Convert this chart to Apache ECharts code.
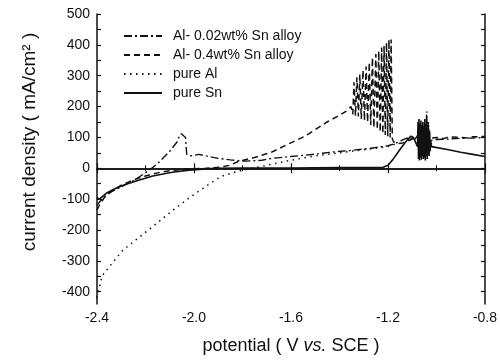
<!DOCTYPE html>
<html><head><meta charset="utf-8">
<script src="https://cdn.jsdelivr.net/npm/echarts@6/dist/echarts.min.js"></script>
<style>html,body{margin:0;padding:0;background:#fff}#c{width:500px;height:360px}</style>
</head><body><div id="c"></div>
<script>
var seriesNames = ['Al- 0.02wt% Sn alloy', 'Al- 0.4wt% Sn alloy', 'pure Al', 'pure Sn'];
var xTicks = [-2.4, -2.0, -1.6, -1.2, -0.8];
var yTickLabels = [-400, -300, -200, -100, 0, 100, 200, 300, 400, 500];
var yMinorTicks = [-400,-350,-300,-250,-200,-150,-100,-50,0,50,100,150,200,250,300,350,400,450,500];

// Al-0.02wt% Sn (dash-dot)
var potA = [-2.4,-2.39,-2.37,-2.35,-2.3,-2.25,-2.2,-2.15,-2.1,-2.07,-2.06,-2.052,-2.045,-2.035,-2.03,-2.01,-1.98,-1.95,-1.9,-1.85,-1.79,-1.72,-1.68,-1.6,-1.545,-1.5,-1.41,-1.35,-1.276,-1.2,-1.17,-1.15,-1.13,-1.11,-1.09,-1.075,-1.06,-1.05,-1.045,-1.04,-1.037,-1.033,-1.03,-1.027,-1.02,-1.0,-0.95,-0.9,-0.85,-0.8];
var curA = [-120,-110,-92,-80,-60,-40,-15,15,55,85,105,112,108,100,45,40,45,40,32,27,23,26,32,38,42,46,54,58,64,73,80,88,95,100,92,110,60,140,90,185,70,150,100,90,92,93,95,97,98,100];

// Al-0.4wt% Sn (dashed)
var potB = [-2.4,-2.39,-2.37,-2.34,-2.3,-2.25,-2.2,-2.15,-2.1,-2.05,-2.0,-1.95,-1.9,-1.85,-1.818,-1.75,-1.683,-1.62,-1.545,-1.5,-1.451,-1.4,-1.37,-1.352,
  -1.345,-1.34,-1.334,-1.328,-1.322,-1.316,-1.31,-1.303,-1.297,-1.29,-1.284,-1.277,-1.271,-1.264,-1.258,-1.25,-1.244,-1.238,-1.232,-1.226,-1.221,-1.216,-1.211,-1.206,-1.201,-1.196,-1.191,-1.187,-1.182,-1.176,
  -1.16,-1.14,-1.12,-1.1,-1.08,-1.07,-1.06,-1.05,-1.04,-1.03,-1.02,-1.0,-0.97,-0.95,-0.9,-0.87,-0.85,-0.8];
var curB = [-135,-120,-95,-75,-55,-38,-25,-15,-8,-4,-2,0,3,10,22,35,51,75,103,125,150,172,186,200,
  175,279,170,295,168,304,160,318,155,330,150,343,140,359,132,370,125,380,118,391,112,396,108,407,104,417,100,417,95,85,
  80,82,88,95,100,105,95,120,100,110,98,100,96,102,100,98,102,103];

// pure Al (dotted)
var potC = [-2.4,-2.39,-2.38,-2.35,-2.294,-2.22,-2.156,-2.09,-2.02,-1.95,-1.887,-1.82,-1.76,-1.71,-1.65,-1.6,-1.5,-1.4,-1.3,-1.2,-1.17];
var curC = [-420,-385,-350,-320,-266,-220,-180,-138,-96,-58,-26,-10,0,8,18,26,40,50,60,70,78];

// pure Sn (solid)
var potD = [-2.4,-2.39,-2.36,-2.32,-2.28,-2.225,-2.17,-2.09,-2.02,-1.95,-1.91,-1.8,-1.6,-1.4,-1.25,-1.22,-1.2,-1.18,-1.16,-1.14,-1.12,-1.105,-1.095,-1.085,-1.078,
  -1.076,-1.074,-1.072,-1.07,-1.068,-1.066,-1.064,-1.062,-1.06,-1.058,-1.056,-1.054,-1.052,-1.05,-1.048,-1.046,-1.044,-1.042,-1.04,-1.038,-1.036,-1.034,-1.032,-1.03,-1.028,-1.026,-1.024,
  -1.02,-0.95,-0.9,-0.85,-0.8];
var curD = [-95,-100,-80,-64,-52,-38,-25,-13,-6,-2,0,1,1,2,2,3,10,28,50,72,92,104,100,82,70,
  150,30,160,25,145,35,155,28,140,40,150,30,135,35,160,25,145,40,150,30,140,45,130,40,120,55,90,
  70,60,52,45,38];

function zip(a, b) { return a.map(function (v, i) { return [v, b[i]]; }); }

var FONT = "'Liberation Sans', Arial, sans-serif";
var INK = '#111';
var chart = echarts.init(document.getElementById('c'), null, { renderer: 'canvas' });

var axisLineStyle = { show: true, lineStyle: { color: INK, width: 1.5 } };

function mkSeries(name, xs, ys, type, width) {
  return {
    name: name, type: 'line', data: zip(xs, ys), symbol: 'none', showSymbol: false,
    lineStyle: { color: INK, width: width, type: type },
    itemStyle: { color: INK },
    animation: false, z: 3
  };
}

chart.setOption({
  animation: false,
  textStyle: { fontFamily: FONT, color: INK },
  grid: { left: 97, right: 10, top: 14, bottom: 53, containLabel: false },
  legend: {
    data: seriesNames, orient: 'vertical', left: 118, top: 24,
    itemWidth: 38, itemHeight: 14, itemGap: 5,
    itemStyle: { opacity: 0 },
    textStyle: { fontFamily: FONT, fontSize: 14, color: INK, padding: [0, 0, 0, 6] }
  },
  xAxis: [{
    type: 'value', min: -2.4, max: -0.8, interval: 0.4, position: 'bottom',
    axisLine: axisLineStyle,
    axisTick: { show: true, inside: true, length: 5, lineStyle: { color: INK, width: 1.2 } },
    minorTick: { show: true, splitNumber: 2, length: 3, lineStyle: { color: INK, width: 1 } },
    splitLine: { show: false },
    axisLabel: { fontFamily: FONT, fontSize: 14, color: INK, margin: 7,
      formatter: function (v) { return v.toFixed(1); } },
    name: '{n|potential ( V }{i|vs.}{n| SCE )}', nameLocation: 'middle', nameGap: 33,
    nameTextStyle: { rich: {
      n: { fontFamily: FONT, fontSize: 18, color: INK },
      i: { fontFamily: FONT, fontSize: 18, color: INK, fontStyle: 'italic' } } }
  }, {
    type: 'value', min: -2.4, max: -0.8, interval: 0.4, position: 'top',
    axisLine: axisLineStyle,
    axisTick: { show: true, inside: true, length: 5, lineStyle: { color: INK, width: 1.2 } },
    minorTick: { show: true, splitNumber: 2, length: 3, lineStyle: { color: INK, width: 1 } },
    splitLine: { show: false }, axisLabel: { show: false }
  }],
  yAxis: [{
    type: 'value', min: -440, max: 500, position: 'left',
    axisLine: axisLineStyle,
    axisTick: { show: true, inside: true, length: 4, customValues: yMinorTicks, lineStyle: { color: INK, width: 1.2 } },
    splitLine: { show: false },
    axisLabel: { fontFamily: FONT, fontSize: 14, color: INK, margin: 7, customValues: yTickLabels },
    name: 'current density ( mA/cm² )', nameLocation: 'middle', nameGap: 58, nameRotate: 90,
    nameTextStyle: { fontFamily: FONT, fontSize: 19, color: INK, padding: [0, 0, 0, 34] }
  }, {
    type: 'value', min: -440, max: 500, position: 'right',
    axisLine: axisLineStyle,
    axisTick: { show: true, inside: true, length: 4, customValues: yMinorTicks, lineStyle: { color: INK, width: 1.2 } },
    splitLine: { show: false }, axisLabel: { show: false }
  }],
  series: [
    mkSeries(seriesNames[0], potA, curA, [8, 3, 2, 3], 1.4),
    mkSeries(seriesNames[1], potB, curB, [6, 4], 1.5),
    mkSeries(seriesNames[2], potC, curC, [1.5, 4.5], 1.5),
    mkSeries(seriesNames[3], potD, curD, 'solid', 1.6)
  ]
});
</script></body></html>
